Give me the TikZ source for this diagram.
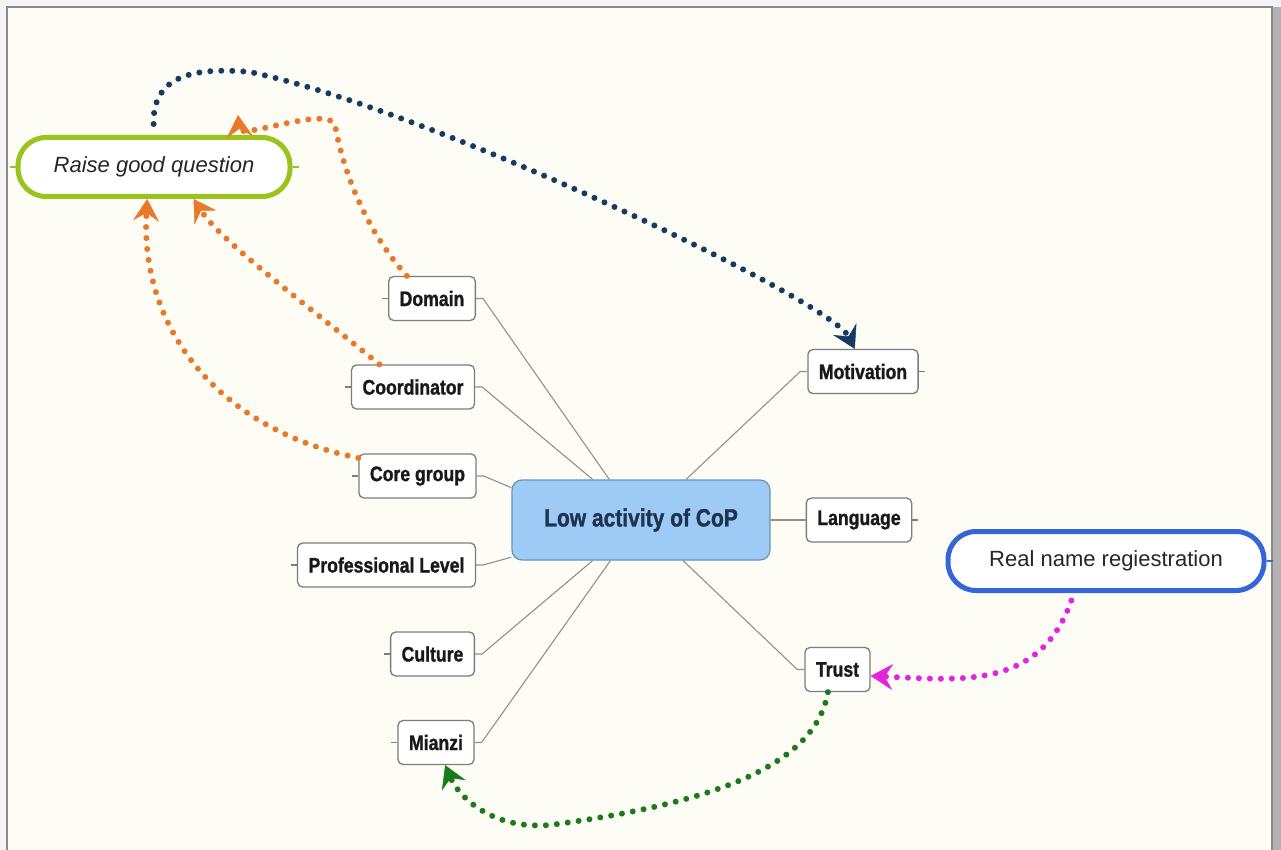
\documentclass[tikz,border=0pt]{standalone}
\usepackage{fontspec}
\setmainfont{Liberation Sans}
\newfontfamily\topicfont[FakeStretch=0.84, FakeBold=1.2]{Liberation Sans Bold}
\usetikzlibrary{calc, arrows.meta}
\definecolor{paper}{HTML}{FDFDF5}
\definecolor{frameline}{HTML}{8A8A86}
\definecolor{centrefill}{HTML}{9DCBF6}
\definecolor{centreline}{HTML}{7090B0}
\definecolor{centretext}{HTML}{1E3350}
\definecolor{boxline}{HTML}{7C7C7C}
\definecolor{branchline}{HTML}{909090}
\definecolor{raisegreen}{HTML}{9BC320}
\definecolor{realblue}{HTML}{3466D8}
\definecolor{navydot}{HTML}{163B63}
\definecolor{orangedot}{HTML}{E8792A}
\definecolor{greendot}{HTML}{1C7A1C}
\definecolor{magentadot}{HTML}{E522E0}
\tikzset{central/.style={rectangle, rounded corners=10pt, minimum width=258pt, minimum height=80pt, draw=centreline, line width=1.2pt, fill=centrefill, text=centretext, font=\topicfont\fontsize{25}{30}\selectfont},
         topic/.style={rectangle, rounded corners=5pt, minimum height=44pt, inner xsep=11pt, draw=boxline, line width=1.3pt, fill=white, text=black!90, font=\topicfont\fontsize{21}{25}\selectfont},
         callout/.style={rectangle, rounded corners=28pt, line width=5pt, fill=white, minimum height=59pt, text=black!85, font=\fontsize{22}{26}\selectfont},
         branch/.style={draw=branchline, line width=1.1pt},
         stub/.style={line width=1.1pt},
         relation/.style={line width=6pt, dash pattern=on 0pt off 11pt, line cap=round, -{Stealth[length=22pt, width=26pt, inset=8pt, line width=0.5pt]}}}

\begin{document}
\begin{tikzpicture}[x=1pt, y=-1pt]
        \useasboundingbox (0,0) rectangle (1281,850);
        \fill[gray!9] (0,0) rectangle (1281,850);
        \fill[gray!60] (1272,7) rectangle (1281,850);
        \fill[paper] (7,7) rectangle (1272,850);
        \draw[frameline, line width=1.5pt] (7,850) -- (7,7) -- (1272,7) -- (1272,850);

        \node (lowactivity)[central] at (641,520) {Low activity of CoP};

        \node (domain)[topic] at (432,298.5) {Domain};
        \draw[branch] (domain.east) -- ++(7,0) -- (lowactivity.128);
        \node (coordinator)[topic] at (413,387) {Coordinator};
        \draw[branch] (coordinator.east) -- ++(7,0) -- (lowactivity.140);
        \node (coregroup)[topic] at (417.5,476) {Core group};
        \draw[branch] (coregroup.east) -- ++(7,0) -- (lowactivity.166);
        \node (proflevel)[topic] at (386.5,565) {Professional Level};
        \draw[branch] (proflevel.east) -- ++(7,0) -- (lowactivity.196);
        \node (culture)[topic] at (432.5,654) {Culture};
        \draw[branch] (culture.east) -- ++(7,0) -- (lowactivity.220);
        \node (mianzi)[topic] at (436,742.5) {Mianzi};
        \draw[branch] (mianzi.east) -- ++(7,0) -- (lowactivity.233);

        \node (motivation)[topic] at (863,371.5) {Motivation};
        \draw[branch] (motivation.west) -- ++(-7,0) -- (lowactivity.42);
        \node (language)[topic] at (859,520) {Language};
        \draw[branch] (language.west) -- (lowactivity.east);
        \node (trust)[topic] at (837.5,669.5) {Trust};
        \draw[branch] (trust.west) -- ++(-7,0) -- (lowactivity.316);

        % little stubs on the free sides
        \draw[stub, boxline] (domain.west) -- ++(-6,0);
        \draw[stub, boxline] (coordinator.west) -- ++(-6,0);
        \draw[stub, boxline] (coregroup.west) -- ++(-6,0);
        \draw[stub, boxline] (proflevel.west) -- ++(-6,0);
        \draw[stub, boxline] (culture.west) -- ++(-6,0);
        \draw[stub, boxline] (mianzi.west) -- ++(-6,0);
        \draw[stub, boxline] (motivation.east) -- ++(6,0);
        \draw[stub, boxline] (language.east) -- ++(6,0);

        \node (raisequestion)[callout, draw=raisegreen, minimum width=272pt] at (154,167) {\itshape Raise good question};
        \draw[stub, raisegreen] (raisequestion.west) -- ++(-6,0);
        \draw[stub, raisegreen] (raisequestion.east) -- ++(6,0);
        \node (realname)[callout, draw=realblue, minimum width=316pt] at (1106,561) {Real name regiestration};
        \draw[stub, realblue] (realname.east) -- ++(6,0);

        % relationships
        \draw[relation, navydot, shorten <=11pt] (raisequestion.north) .. controls (152,75) and (195,67) .. (250,72) .. controls (430,110) and (830,300) .. (motivation.110);
        \draw[relation, orangedot] (domain.138) .. controls (370,235) and (345,180) .. (335,125) .. controls (328,105) and (240,140) .. ($(raisequestion.north)+(84,-20)$);
        \draw[relation, orangedot] (coordinator.146) .. controls (300,300) and (220,240) .. (raisequestion.-39);
        \draw[relation, orangedot] (coregroup.163) .. controls (220,430) and (140,330) .. (raisequestion.258);
        \draw[relation, greendot] (trust.247) .. controls (815,770) and (700,805) .. (550,825) .. controls (490,830) and (458,795) .. (mianzi.292);
        \draw[relation, magentadot, shorten <=8pt] (realname.225) .. controls (1040,690) and (960,680) .. (trust.349);
    \end{tikzpicture}
\end{document}
